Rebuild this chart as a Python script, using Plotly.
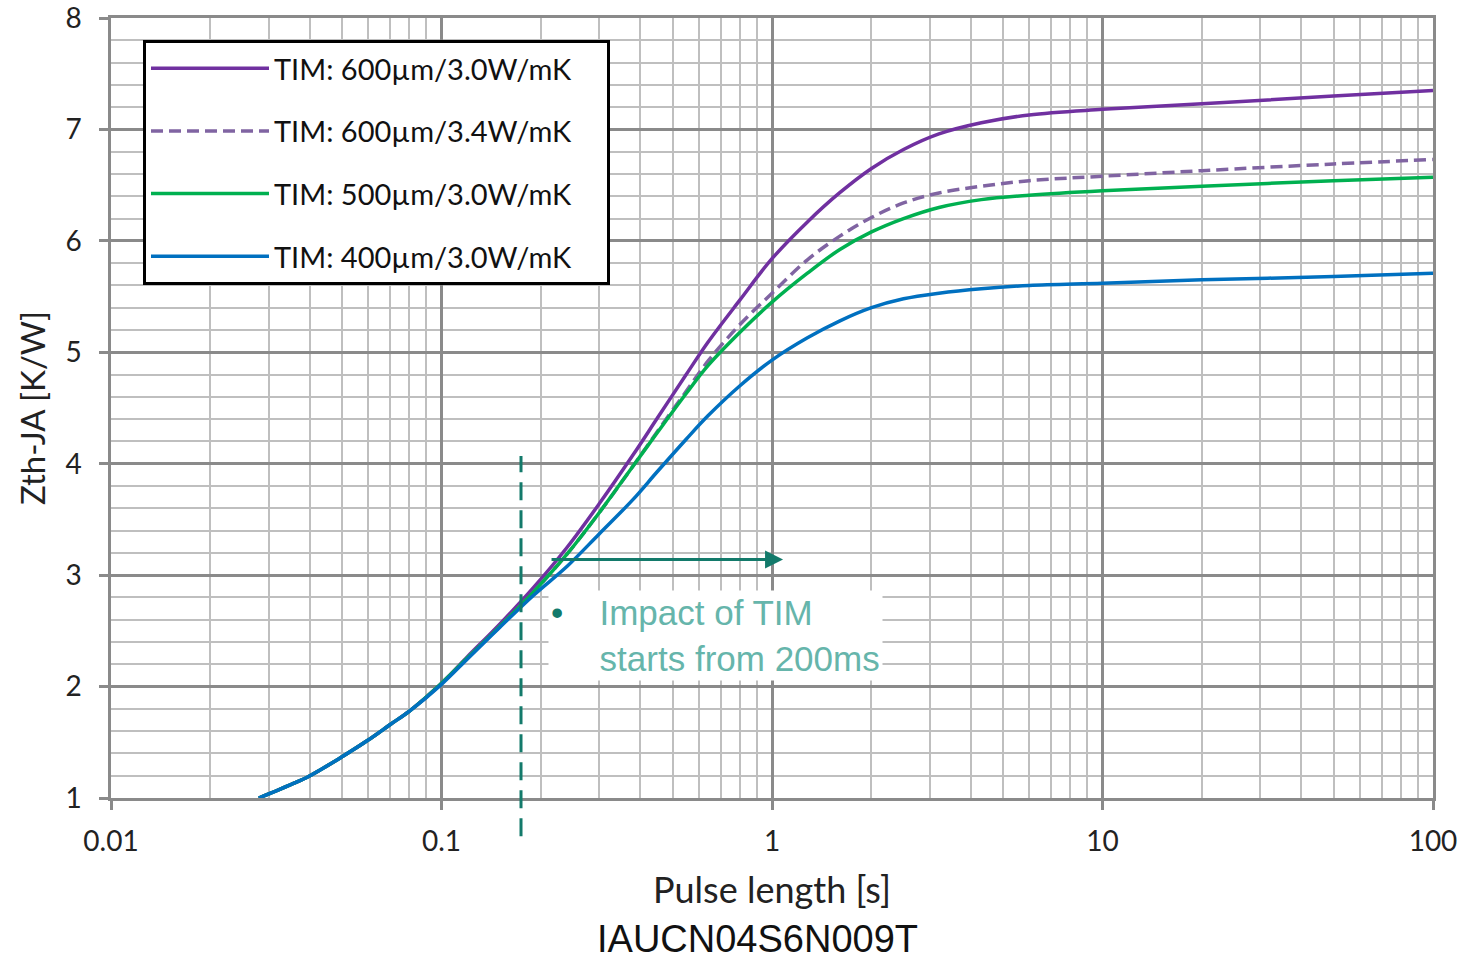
import math
import plotly.graph_objects as go

# ---- data ----
pulse_s = [0.028, 0.035, 0.04, 0.05, 0.06, 0.07, 0.08, 0.1, 0.12, 0.15, 0.19, 0.24, 0.30, 0.38,
           0.45, 0.55, 0.64, 0.8, 1.0, 1.28, 1.6, 2.0, 2.5, 3.2, 4.3, 6, 10, 20, 50, 100]

zth_600_30 = [1.00, 1.12, 1.20, 1.37, 1.52, 1.66, 1.78, 2.03, 2.27, 2.56, 2.89, 3.25, 3.64, 4.08,
              4.41, 4.80, 5.09, 5.47, 5.84, 6.17, 6.43, 6.65, 6.82, 6.96, 7.06, 7.13, 7.18, 7.23, 7.30, 7.35]
zth_600_34 = [1.00, 1.12, 1.20, 1.37, 1.52, 1.66, 1.78, 2.03, 2.26, 2.54, 2.85, 3.19, 3.56, 3.98,
              4.29, 4.65, 4.92, 5.25, 5.53, 5.83, 6.04, 6.21, 6.34, 6.43, 6.49, 6.54, 6.58, 6.63, 6.69, 6.73]
zth_500_30 = [1.00, 1.12, 1.20, 1.37, 1.52, 1.66, 1.78, 2.03, 2.26, 2.54, 2.85, 3.19, 3.56, 3.98,
              4.28, 4.63, 4.88, 5.18, 5.45, 5.71, 5.92, 6.08, 6.20, 6.30, 6.37, 6.41, 6.45, 6.49, 6.54, 6.57]
zth_400_30 = [1.00, 1.12, 1.20, 1.37, 1.52, 1.66, 1.78, 2.02, 2.25, 2.53, 2.82, 3.08, 3.37, 3.68,
              3.93, 4.22, 4.43, 4.70, 4.93, 5.13, 5.28, 5.40, 5.48, 5.53, 5.57, 5.60, 5.62, 5.65, 5.68, 5.71]

series_names = ["TIM: 600µm/3.0W/mK", "TIM: 600µm/3.4W/mK", "TIM: 500µm/3.0W/mK", "TIM: 400µm/3.0W/mK"]
series_values = [zth_600_30, zth_600_34, zth_500_30, zth_400_30]
series_colors = ["#7030A0", "#8064A2", "#00B050", "#0070C0"]
series_dash = ["solid", "12px,6px", "solid", "solid"]

x_tick_vals = [0.01, 0.1, 1, 10, 100]
x_tick_text = ["0.01", "0.1", "1", "10", "100"]

marker_x = 0.174          # dashed vertical marker (~200 ms)
arrow_from, arrow_to, arrow_y = 0.213, 1.08, 3.14
note_line1 = "Impact of TIM"
note_line2 = "starts from 200ms"
caption = "IAUCN04S6N009T"

TEAL = "#137A6B"
NOTE = "#66B5AB"
FONT = "Lato"
TXT = "#222222"
nb = "\u00a0"

fig = go.Figure()
for i, (name, vals, col, dsh) in enumerate(zip(series_names, series_values, series_colors, series_dash)):
    fig.add_trace(go.Scatter(
        x=pulse_s, y=vals, name=name + nb * 4, mode="lines",
        line=dict(color=col, width=3.5, dash=dsh, shape="spline", smoothing=1.0),
        legendgroup=f"g{i}",
    ))

major_grid = "#8A8A8A"
minor_grid = "#BFBFBF"

fig.update_layout(
    width=1460, height=960,
    margin=dict(l=111, r=27, t=18, b=162, autoexpand=False),
    paper_bgcolor="white", plot_bgcolor="white",
    font=dict(family=FONT, size=28, color=TXT),
    showlegend=True,
    legend=dict(
        x=0.0242, y=0.972, xanchor="left", yanchor="top",
        bgcolor="white", bordercolor="black", borderwidth=3,
        font=dict(family=FONT, size=29, color="#111111"),
        tracegroupgap=22, itemwidth=118,
    ),
    xaxis=dict(
        type="log", range=[-2, 2], automargin=False,
        tickvals=x_tick_vals, ticktext=x_tick_text,
        showgrid=True, gridcolor=major_grid, gridwidth=2.5,
        ticks="outside", ticklen=9, tickwidth=2.5, tickcolor=major_grid,
        ticklabelstandoff=8, ticklabeloverflow="allow",
        minor=dict(dtick="D1", showgrid=True, gridcolor=minor_grid, gridwidth=2, ticks=""),
        showline=True, linecolor=major_grid, linewidth=2.5, mirror=True,
        zeroline=False,
        tickfont=dict(family=FONT, size=28, color=TXT),
        title=dict(text="Pulse length [s]", font=dict(family=FONT, size=36, color=TXT), standoff=22),
    ),
    yaxis=dict(
        range=[1, 8], dtick=1, automargin=False,
        showgrid=True, gridcolor=major_grid, gridwidth=2.5,
        ticks="outside", ticklen=9, tickwidth=2.5, tickcolor=major_grid,
        ticklabelstandoff=12, ticklabeloverflow="allow",
        minor=dict(dtick=0.2, showgrid=True, gridcolor=minor_grid, gridwidth=2, ticks=""),
        showline=True, linecolor=major_grid, linewidth=2.5, mirror=True,
        zeroline=False,
        tickfont=dict(family=FONT, size=28, color=TXT),
        title=dict(text="Zth-JA [K/W]", font=dict(family=FONT, size=33, color=TXT), standoff=10),
    ),
)

# dashed vertical marker at ~200 ms (extends slightly below the axis)
fig.add_shape(type="line", xref="x", yref="paper",
              x0=marker_x, x1=marker_x, y0=-0.049, y1=0.4385,
              line=dict(color=TEAL, width=3, dash="18px,10px"))

# horizontal arrow
fig.add_annotation(xref="x", yref="y", axref="x", ayref="y",
                   x=math.log10(arrow_to), y=arrow_y,
                   ax=math.log10(arrow_from), ay=arrow_y,
                   text="", showarrow=True, arrowhead=2, arrowsize=1.2,
                   arrowwidth=3, arrowcolor=TEAL, standoff=0, startstandoff=0)

# note box
fig.add_annotation(xref="paper", yref="paper", x=0.3306, y=0.2667,
                   xanchor="left", yanchor="top", showarrow=False, align="left",
                   text=(f'<span style="color:{TEAL}">•</span>' + nb * 3 + "\u2009" + note_line1 +
                         "<br>" + nb * 5 + note_line2),
                   font=dict(family="Liberation Sans", size=35, color=NOTE),
                   bgcolor="white", borderpad=2)

# caption below the axis title
fig.add_annotation(xref="paper", yref="paper", x=0.4887, y=-0.1808,
                   xanchor="center", yanchor="middle", showarrow=False,
                   text=caption, font=dict(family="Liberation Sans", size=38, color="#111111"))

fig.write_html("out.html", config={"displayModeBar": False},
               post_script="document.body.style.margin='0px';")
